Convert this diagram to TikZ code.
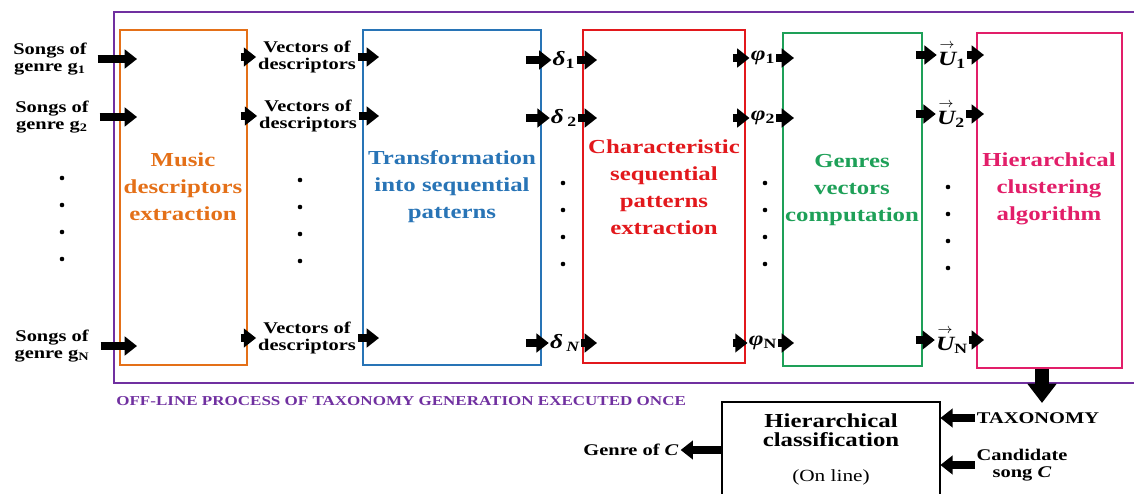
\documentclass[tikz,border=0pt]{standalone}
\usepackage{fontspec}
\setmainfont{Liberation Serif}[FakeStretch=1.25]
\usetikzlibrary{arrows.meta,calc,fit}
\definecolor{offC}{RGB}{112,48,160}
\definecolor{mdeC}{RGB}{228,112,24}
\definecolor{tspC}{RGB}{40,116,182}
\definecolor{cspC}{RGB}{226,24,28}
\definecolor{gvcC}{RGB}{30,160,88}
\definecolor{hcaC}{RGB}{226,30,105}
\newcommand{\vecU}{$\stackrel{\scriptstyle\rightarrow}{\mbox{\bfseries\itshape U}}$}

\begin{document}
\begin{tikzpicture}[x=0.02cm, y=-0.02cm,
        stage/.style={draw=#1, line width=1.1pt, inner sep=0pt},
        ttl/.style={align=center, text=#1, font=\fontsize{11.3}{15.3}\selectfont\bfseries},
        lbl/.style={align=center, inner sep=1pt, font=\fontsize{9.3}{9.6}\selectfont\bfseries},
        sym/.style={inner sep=0.5pt, font=\fontsize{11.5}{12}\selectfont\bfseries},
        blk/.style={line width=4.8pt, -{Triangle[length=7pt,width=10.5pt]}},
        bigblk/.style={line width=8pt, -{Triangle[length=11pt,width=16pt]}}]
        \useasboundingbox (0,0) rectangle (1134,494);

        % off-line frame, open on the right
        \draw[offC, line width=1.4pt] (1134,12) -- (114,12) -- (114,383) -- (1134,383);
        \node[anchor=west, inner sep=0pt, text=offC, font=\fontsize{7.75}{8}\selectfont\bfseries] (offl) at (116,401)
            {OFF-LINE PROCESS OF TAXONOMY GENERATION EXECUTED ONCE};

        % stages
        \node[stage=mdeC, fit={(120,30) (247,365)}] (mde) {};
        \node[stage=tspC, fit={(363,30) (541,365)}] (tsp) {};
        \node[stage=cspC, fit={(583,30) (745,363)}] (csp) {};
        \node[stage=gvcC, fit={(783,33) (922,366)}] (gvc) {};
        \node[stage=hcaC, fit={(977,33) (1122,368)}] (hca) {};

        \node[ttl=mdeC] (mdet) at (183,187) {Music\\descriptors\\extraction};
        \node[ttl=tspC] (tspt) at (452,187) {Transformation\\into sequential\\patterns};
        \node[ttl=cspC] (cspt) at (664,187) {Characteristic\\sequential\\patterns\\extraction};
        \node[ttl=gvcC] (gvct) at (852,190) {Genres\\vectors\\computation};
        \node[ttl=hcaC] (hcat) at (1049,189) {Hierarchical\\clustering\\algorithm};

        % row labels
        \node[lbl] (s1) at (50,59) {Songs of\\genre g\textsubscript{1}};
        \node[lbl] (s2) at (52,117) {Songs of\\genre g\textsubscript{2}};
        \node[lbl] (sN) at (52,346) {Songs of\\genre g\textsubscript{N}};
        \node[lbl] (v1) at (307,57) {Vectors of\\descriptors};
        \node[lbl] (v2) at (308,116) {Vectors of\\descriptors};
        \node[lbl] (vN) at (307,338) {Vectors of\\descriptors};
        \node[sym] (d1) at (564,60) {{\itshape δ}\textsubscript{1}};
        \node[sym] (d2) at (564,118) {{\itshape δ}\,\textsubscript{2}};
        \node[sym] (dN) at (565,343) {{\itshape δ}\,\textsubscript{\itshape N}};
        \node[sym] (f1) at (763,58) {{\itshape φ}\textsubscript{1}};
        \node[sym] (f2) at (763,118) {{\itshape φ}\textsubscript{2}};
        \node[sym] (fN) at (763,343) {{\itshape φ}\textsubscript{N}};
        \node[sym] (u1) at (952,55) {\vecU\textsubscript{1}};
        \node[sym] (u2) at (951,114) {\vecU\textsubscript{2}};
        \node[sym] (uN) at (952,340) {\vecU\textsubscript{N}};

        \foreach \r in {1,2,N} {
            \draw[blk] ($(s\r.east)+(9,0)$) -- ($(mde.west |- s\r.east)+(18,0)$);
            \draw[blk] ($(mde.east |- v\r.west)+(-7,0)$) -- (v\r.west);
            \draw[blk] (v\r.east) -- ($(tsp.west |- v\r.east)+(17,0)$);
            \draw[blk] ($(tsp.east |- d\r.west)+(-16,0)$) -- (d\r.west);
            \draw[blk] (d\r.east) -- ($(csp.west |- d\r.east)+(15,0)$);
            \draw[blk] ($(csp.east |- f\r.west)+(-13,0)$) -- (f\r.west);
            \draw[blk] (f\r.east) -- ($(gvc.west |- f\r.east)+(12,0)$);
            \draw[blk] ($(gvc.east |- u\r.west)+(-7,0)$) -- (u\r.west);
            \draw[blk] (u\r.east) -- ($(hca.west |- u\r.east)+(8,0)$);
        }

        % vertical dots between the rows
        \foreach \x/\y in {62/178, 300/180, 563/183, 765/183, 948/187}
            \foreach \k in {0,...,3}
                \fill (\x,{\y+27*\k}) circle[radius=1.3pt];

        % on-line part
        \node[fit={(722,402) (940,494)}, inner sep=0pt] (hcl) {};
        \draw[line width=1.3pt] (hcl.south west) -- (hcl.north west) -- (hcl.north east) -- (hcl.south east);
        \node[align=center, font=\fontsize{11.3}{10.5}\selectfont\bfseries] (hclt) at (831,430) {Hierarchical\\classification};
        \node[font=\fontsize{9.7}{10}\selectfont] (onl) at (831,477) {(On line)};

        \node[lbl] (tax) at (1038,418) {TAXONOMY};
        \node[lbl] (cand) at (1022,465) {Candidate\\song \textit{C}};
        \node[lbl] (gen) at (631,450) {Genre of \textit{C}};
        \coordinate (taxin) at (1042,403);

        \draw[bigblk] (hca.south -| taxin) -- (taxin);
        \draw[blk] (tax.west) -- (tax.west -| hcl.east);
        \draw[blk] (cand.west) -- (cand.west -| hcl.east);
        \draw[blk] (hcl.west |- gen) -- (gen.east);
\end{tikzpicture}
\end{document}
